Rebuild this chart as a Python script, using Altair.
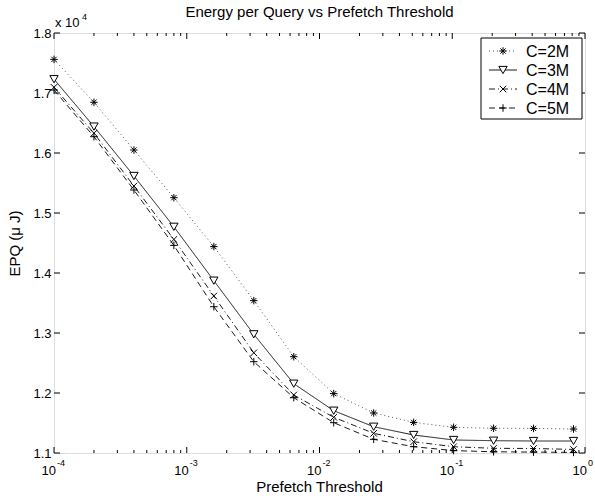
import altair as alt
import pandas as pd

# ---- data ----
thresholds = [1e-4, 2e-4, 4e-4, 8e-4, 1.6e-3, 3.2e-3, 6.4e-3, 1.28e-2,
              2.56e-2, 5.12e-2, 0.1024, 0.2048, 0.4096, 0.8192]
epq_2m = [17560, 16845, 16050, 15255, 14440, 13540, 12605, 11990,
          11667, 11510, 11428, 11412, 11410, 11400]
epq_3m = [17230, 16440, 15617, 14770, 13872, 12978, 12155, 11705,
          11438, 11300, 11217, 11205, 11200, 11200]
epq_4m = [17095, 16330, 15450, 14560, 13617, 12670, 11967, 11595,
          11328, 11188, 11105, 11078, 11075, 11060]
epq_5m = [17050, 16272, 15383, 14460, 13438, 12522, 11922, 11505,
          11228, 11105, 11040, 11020, 11015, 11010]
series_names = ["C=2M", "C=3M", "C=4M", "C=5M"]
x_major = [1e-4, 1e-3, 1e-2, 1e-1, 1.0]
x_exps = ["-4", "-3", "-2", "-1", "0"]
y_ticks = [11000, 12000, 13000, 14000, 15000, 16000, 17000, 18000]

W, H = 531, 420
FONT = "Liberation Sans"

# ---- styles ----
asterisk = "M0,-1L0,1M-1,0L1,0M-0.7,-0.7L0.7,0.7M-0.7,0.7L0.7,-0.7"
xmark = "M-1,-1L1,1M-1,1L1,-1"
plus = "M0,-1L0,1M-1,0L1,0"
styles = {
    "C=2M": dict(dash=[1, 3], shape=asterisk, size=56, color="#444444"),
    "C=3M": dict(dash=[1, 0], shape="triangle-down", size=70, color="black"),
    "C=4M": dict(dash=[6, 3, 1, 3], shape=xmark, size=42, color="black"),
    "C=5M": dict(dash=[6, 4], shape=plus, size=56, color="black"),
}
values = {"C=2M": epq_2m, "C=3M": epq_3m, "C=4M": epq_4m, "C=5M": epq_5m}

xscale = alt.Scale(type="log", domain=[1e-4, 1], nice=False)
yscale = alt.Scale(domain=[11000, 18000], nice=False, zero=False)
yaxis = alt.Axis(values=y_ticks, ticks=False, domain=False, grid=False,
                 labelExpr="format(datum.value/10000, '.1f')",
                 labelFont=FONT, labelFontSize=13, labelColor="black",
                 labelPadding=3, title="EPQ (\u03bc J)", titleFont=FONT,
                 titleFontSize=15, titleFontWeight="normal",
                 titleColor="black", titlePadding=10)


def X(field):
    return alt.X(field, scale=xscale, axis=None)


def Y(field):
    return alt.Y(field, scale=yscale, axis=yaxis)


def point_mark(st, name):
    return dict(shape=st["shape"], size=st["size"], filled=False,
                fill="white" if name == "C=3M" else "transparent",
                stroke="black", strokeWidth=1, opacity=1)


layers = []

# data series
for name in series_names:
    st = styles[name]
    df = pd.DataFrame({"t": thresholds, "epq": values[name]})
    base = alt.Chart(df).encode(x=X("t:Q"), y=Y("epq:Q"))
    layers.append(base.mark_line(strokeWidth=0.9, strokeDash=st["dash"], color=st["color"]))
    layers.append(base.mark_point(**point_mark(st, name)))

# ticks (inward, all four sides)
minor = [m * 10 ** e for e in range(-4, 0) for m in range(2, 10)]
xmaj_df = pd.DataFrame({"t": x_major})
xmin_df = pd.DataFrame({"t": minor})
yaxis_df = pd.DataFrame({"v": y_ticks})
for df, ln in [(xmaj_df, 6), (xmin_df, 3)]:
    layers.append(alt.Chart(df).mark_rule(color="black", strokeWidth=1).encode(
        x=X("t:Q"), y=alt.value(H), y2=alt.value(H - ln)))
    layers.append(alt.Chart(df).mark_rule(color="black", strokeWidth=1).encode(
        x=X("t:Q"), y=alt.value(0), y2=alt.value(ln)))
layers.append(alt.Chart(yaxis_df).mark_rule(color="black", strokeWidth=1).encode(
    y=Y("v:Q"), x=alt.value(0), x2=alt.value(6)))
layers.append(alt.Chart(yaxis_df).mark_rule(color="black", strokeWidth=1).encode(
    y=Y("v:Q"), x=alt.value(W), x2=alt.value(W - 6)))

# x tick labels 10^e
xlab_df = pd.DataFrame({"t": x_major, "base": ["10"] * 5, "exp": x_exps})
layers.append(alt.Chart(xlab_df).mark_text(font=FONT, fontSize=13, align="right",
                                           baseline="alphabetic", dx=2, color="black").encode(
    x=X("t:Q"), y=alt.value(H + 22), text="base:N"))
layers.append(alt.Chart(xlab_df).mark_text(font=FONT, fontSize=9, align="left",
                                           baseline="alphabetic", dx=3, color="black").encode(
    x=X("t:Q"), y=alt.value(H + 13), text="exp:N"))

# x axis title
layers.append(alt.Chart(pd.DataFrame({"s": ["Prefetch Threshold"]})).mark_text(
    font=FONT, fontSize=15, align="center", baseline="alphabetic", color="black").encode(
    x=alt.value(W / 2), y=alt.value(H + 39), text="s:N"))

# chart title
layers.append(alt.Chart(pd.DataFrame({"s": ["Energy per Query vs Prefetch Threshold"]})).mark_text(
    font=FONT, fontSize=15, align="center", baseline="alphabetic", color="black").encode(
    x=alt.value(W / 2), y=alt.value(-16), text="s:N"))

# exponent multiplier label
layers.append(alt.Chart(pd.DataFrame({"s": ["x 10"]})).mark_text(
    font=FONT, fontSize=13, align="left", baseline="alphabetic", color="black").encode(
    x=alt.value(1), y=alt.value(-6), text="s:N"))
layers.append(alt.Chart(pd.DataFrame({"s": ["4"]})).mark_text(
    font=FONT, fontSize=9, align="left", baseline="alphabetic", color="black").encode(
    x=alt.value(28), y=alt.value(-13), text="s:N"))

# legend
LX0, LX1, LY0, LY1 = 427, 528, 5, 86
layers.append(alt.Chart(pd.DataFrame({"a": [0]})).mark_rect(
    fill="white", stroke="black", strokeWidth=1).encode(
    x=alt.value(LX0), x2=alt.value(LX1), y=alt.value(LY0), y2=alt.value(LY1)))
row_y = [18, 37, 56, 75]
for name, ry in zip(series_names, row_y):
    st = styles[name]
    ldf = pd.DataFrame({"label": [name]})
    layers.append(alt.Chart(ldf).mark_rule(strokeWidth=0.9, strokeDash=st["dash"],
                                           color=st["color"]).encode(
        x=alt.value(435), x2=alt.value(463), y=alt.value(ry)))
    layers.append(alt.Chart(ldf).mark_point(**point_mark(st, name)).encode(
        x=alt.value(449), y=alt.value(ry)))
    layers.append(alt.Chart(ldf).mark_text(font=FONT, fontSize=16, align="left",
                                           baseline="middle", color="black").encode(
        x=alt.value(472), y=alt.value(ry + 1), text="label:N"))

chart = alt.layer(*layers).properties(
    width=W, height=H,
    autosize=alt.AutoSizeParams(type="none"),
    padding={"left": 54, "top": 33, "right": 10, "bottom": 43},
).configure_view(stroke="black", strokeWidth=1.2).configure(background="white")

chart.save("out.html", embed_options={"renderer": "svg", "actions": False})
